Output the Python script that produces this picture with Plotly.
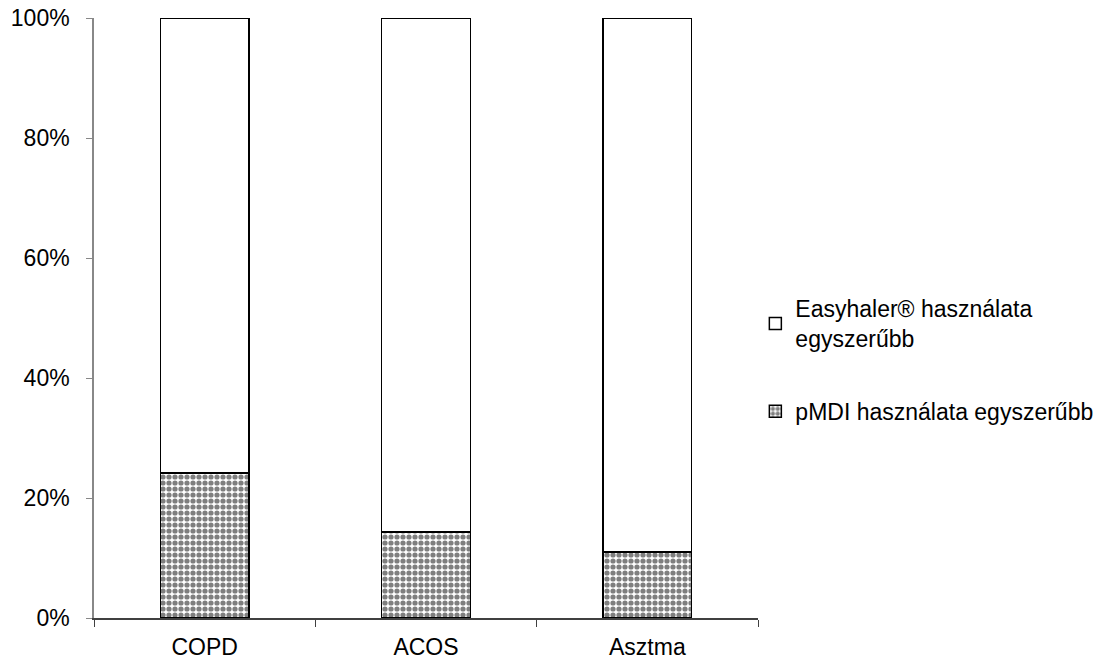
import plotly.graph_objects as go

categories = ["COPD", "ACOS", "Asztma"]
pmdi_values = [24.2, 14.3, 11.0]
easy_values = [75.8, 85.7, 89.0]
pmdi_name = "pMDI használata egyszerűbb"
easy_name = "Easyhaler® használata<br>egyszerűbb"
y_ticks = [0, 20, 40, 60, 80, 100]
y_labels = ["0%", "20%", "40%", "60%", "80%", "100%"]

FONT = "Liberation Sans, Arial, sans-serif"

fig = go.Figure()
fig.add_trace(go.Bar(
    x=categories, y=pmdi_values, name=pmdi_name, legendgroup="b", legendrank=2,
    marker=dict(color="white", line=dict(color="black", width=1.5),
                pattern=dict(shape=".", fgcolor="black", bgcolor="white",
                             size=6, solidity=0.6, fillmode="overlay")),
    width=0.4,
))
fig.add_trace(go.Bar(
    x=categories, y=easy_values, name=easy_name, legendgroup="a", legendrank=1,
    marker=dict(color="white", line=dict(color="black", width=1.5)),
    width=0.4,
))

fig.update_layout(
    barmode="stack",
    width=1108, height=664,
    margin=dict(l=86, r=358, t=10, b=54, autoexpand=False),
    paper_bgcolor="white", plot_bgcolor="white",
    font=dict(family=FONT, size=23, color="black"),
    legend=dict(x=0.996, xanchor="left", y=0.43, yanchor="middle",
                traceorder="grouped", tracegroupgap=40,
                font=dict(family=FONT, size=23, color="black"),
                itemwidth=30),
    showlegend=True,
)
fig.update_xaxes(
    showline=True, linecolor="#404040", linewidth=1.5,
    ticks="outside", ticklen=7, tickcolor="#404040", tickson="boundaries",
    showgrid=False, ticklabelstandoff=8, automargin=False,
    ticklabeloverflow="allow",
    tickfont=dict(family=FONT, size=23, color="black"),
)
fig.update_yaxes(
    range=[0, 100], tickvals=y_ticks, ticktext=y_labels,
    showline=True, linecolor="#888888", linewidth=1.5,
    ticks="outside", ticklen=6, tickcolor="#888888",
    showgrid=False, zeroline=False, ticklabelstandoff=12, automargin=False,
    ticklabeloverflow="allow",
    tickfont=dict(family=FONT, size=23, color="black"),
)

fig.write_html("out.html")
